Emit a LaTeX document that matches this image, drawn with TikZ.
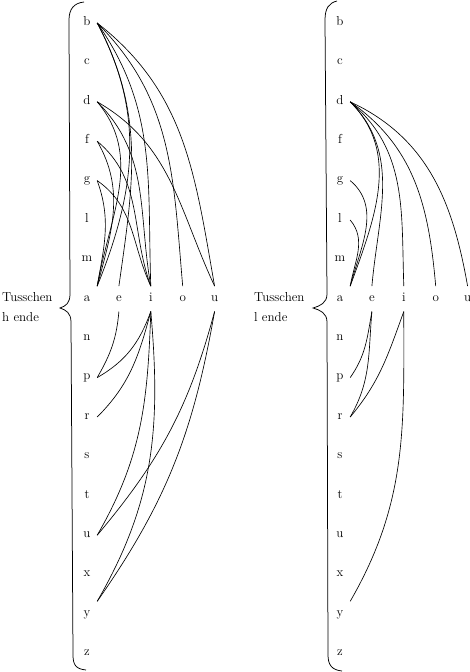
\documentclass[tikz,border=0pt]{standalone}
\usepackage{tikz}
\usetikzlibrary{positioning}

\begin{document}
\begin{tikzpicture}[
    x=1pt, y=1pt,
    node distance=14pt and 11.5pt,
    letter/.style={inner sep=0pt, minimum width=20pt, minimum height=25pt,
                   text height=7pt, text depth=2.5pt,
                   font=\fontsize{13}{15}\selectfont},
    side/.style={inner sep=0pt, align=left, anchor=west,
                 font=\fontsize{13}{20}\selectfont},
    link/.style={line width=0.65pt},
    brace/.style={line width=0.75pt},
]
\useasboundingbox (0,0) rectangle (470,-672);

% Left table (h): letter column
\node[letter] (h-b) at (87,-23) {b};
\node[letter, below=of h-b] (h-c) {c};
\node[letter, below=of h-c] (h-d) {d};
\node[letter, below=of h-d] (h-f) {f};
\node[letter, below=of h-f] (h-g) {g};
\node[letter, below=of h-g] (h-l) {l};
\node[letter, below=of h-l] (h-m) {m};
\node[letter, below=of h-m] (h-a) {a};
\node[letter, below=of h-a] (h-n) {n};
\node[letter, below=of h-n] (h-p) {p};
\node[letter, below=of h-p] (h-r) {r};
\node[letter, below=of h-r] (h-s) {s};
\node[letter, below=of h-s] (h-t) {t};
\node[letter, below=of h-t] (h-u) {u};
\node[letter, below=of h-u] (h-x) {x};
\node[letter, below=of h-x] (h-y) {y};
\node[letter, below=of h-y] (h-z) {z};

% Left table: vowel row
\node[letter, right=of h-a] (h-ve) {e};
\node[letter, right=of h-ve] (h-vi) {i};
\node[letter, right=of h-vi] (h-vo) {o};
\node[letter, right=of h-vo] (h-vu) {u};

% Right table (l): letter column
\node[letter] (l-b) at (340,-23) {b};
\node[letter, below=of l-b] (l-c) {c};
\node[letter, below=of l-c] (l-d) {d};
\node[letter, below=of l-d] (l-f) {f};
\node[letter, below=of l-f] (l-g) {g};
\node[letter, below=of l-g] (l-l) {l};
\node[letter, below=of l-l] (l-m) {m};
\node[letter, below=of l-m] (l-a) {a};
\node[letter, below=of l-a] (l-n) {n};
\node[letter, below=of l-n] (l-p) {p};
\node[letter, below=of l-p] (l-r) {r};
\node[letter, below=of l-r] (l-s) {s};
\node[letter, below=of l-s] (l-t) {t};
\node[letter, below=of l-t] (l-u) {u};
\node[letter, below=of l-u] (l-x) {x};
\node[letter, below=of l-x] (l-y) {y};
\node[letter, below=of l-y] (l-z) {z};

% Right table: vowel row
\node[letter, right=of l-a] (l-ve) {e};
\node[letter, right=of l-ve] (l-vi) {i};
\node[letter, right=of l-vi] (l-vo) {o};
\node[letter, right=of l-vo] (l-vu) {u};

% Side labels
\node[side] (h-label) at (2,-307) {Tusschen\\h ende};
\node[side] (l-label) at (254,-307) {Tusschen\\l ende};

% Braces
\draw[brace] (84,-2) .. controls (74,-3) and (69,-9) .. (69,-20) -- (70,-294)
  .. controls (70,-303) and (66,-306) .. (60,-308)
  .. controls (66,-310) and (71,-313) .. (71,-322) -- (73,-655)
  .. controls (73,-665) and (76,-669) .. (86,-670);
\draw[brace] (337,-1) .. controls (329,-3) and (325,-8) .. (325,-20) -- (327,-294)
  .. controls (327,-303) and (320,-306) .. (313,-308)
  .. controls (320,-310) and (327,-313) .. (327,-322) -- (328,-655)
  .. controls (328,-665) and (332,-670) .. (342,-671);

% Left table, above the vowels
\draw[link] (h-b.east) to[out=-38, in=100] (h-vu.north);
\draw[link] (h-b.east) to[out=-45, in=95] (h-vo.north);
\draw[link] (h-b.east) to[out=-55, in=92] (h-vi.north);
\draw[link] (h-b.east) to[out=-62, in=82] (h-ve.north);
\draw[link] (h-b.east) to[out=-62, in=68] (h-a.north east);
\draw[link] (h-d.east) to[out=-30, in=115] (h-vu.north);
\draw[link] (h-d.east) to[out=-45, in=100] (h-vi.north);
\draw[link] (h-d.east) to[out=-50, in=80] (h-a.north east);
\draw[link] (h-f.east) to[out=-40, in=110] (h-vi.north);
\draw[link] (h-f.east) to[out=-60, in=75] (h-a.north east);
\draw[link] (h-g.east) to[out=-35, in=115] (h-vi.north);
\draw[link] (h-g.east) to[out=-70, in=80] (h-a.north east);

% Left table, below the vowels
\draw[link] (h-ve.south) to[out=-95, in=60] (h-p.east);
\draw[link] (h-vi.south) to[out=-110, in=30] (h-p.east);
\draw[link] (h-vi.south) to[out=-105, in=45] (h-r.east);
\draw[link] (h-vi.south) to[out=-92, in=60] (h-u.east);
\draw[link] (h-vi.south) to[out=-85, in=60] (h-y.north east);
\draw[link] (h-vu.south) to[out=-105, in=50] (h-u.east);
\draw[link] (h-vu.south) to[out=-100, in=55] (h-y.north east);

% Right table, above the vowels
\draw[link] (l-d.east) to[out=-25, in=100] (l-vu.north);
\draw[link] (l-d.east) to[out=-35, in=95] (l-vo.north);
\draw[link] (l-d.east) to[out=-40, in=92] (l-vi.north);
\draw[link] (l-d.east) to[out=-45, in=85] (l-ve.north);
\draw[link] (l-d.east) to[out=-45, in=70] (l-a.north east);
\draw[link] (l-g.east) to[out=-40, in=75] (l-a.north east);
\draw[link] (l-l.east) to[out=-50, in=80] (l-a.north east);

% Right table, below the vowels
\draw[link] (l-ve.south) to[out=-100, in=55] (l-p.east);
\draw[link] (l-ve.south) to[out=-95, in=60] (l-r.east);
\draw[link] (l-vi.south) to[out=-110, in=50] (l-r.east);
\draw[link] (l-vi.south) to[out=-90, in=60] (l-y.north east);

\end{tikzpicture}
\end{document}
